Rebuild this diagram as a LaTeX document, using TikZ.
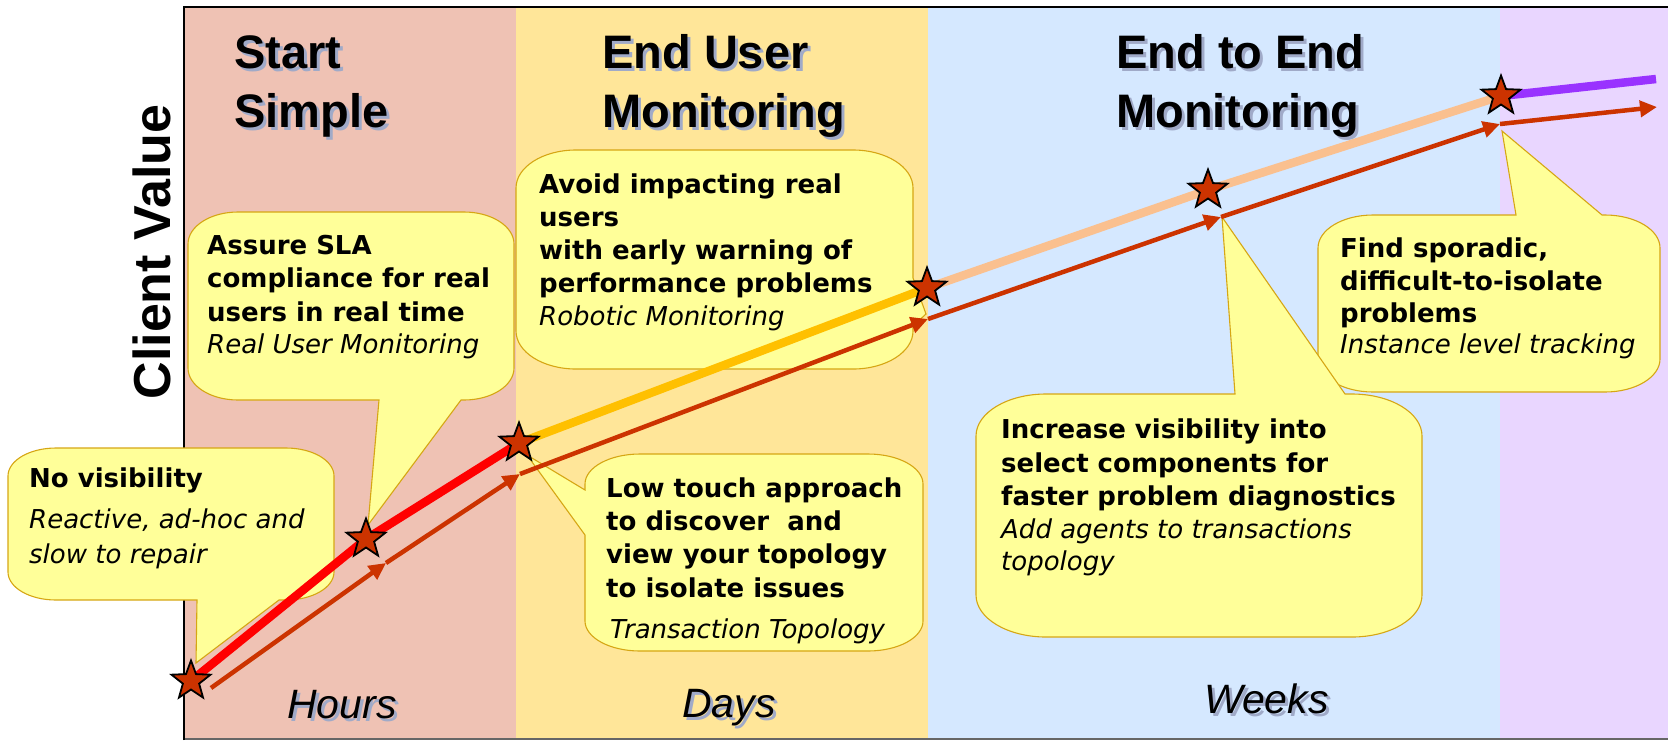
\documentclass[tikz,border=0pt]{standalone}
\usepackage{fontspec}
\setmainfont{Liberation Sans}
\newfontfamily\callfont{DejaVu Sans}
\usetikzlibrary{shapes.geometric,arrows.meta}

\definecolor{phaseA}{RGB}{239,194,180}
\definecolor{phaseB}{RGB}{255,230,153}
\definecolor{phaseC}{RGB}{213,232,255}
\definecolor{phaseD}{RGB}{233,214,255}
\definecolor{bubblefill}{RGB}{255,255,153}
\definecolor{bubbleline}{RGB}{214,166,20}
\definecolor{starfill}{RGB}{204,51,0}
\definecolor{arrowred}{RGB}{204,51,0}
\definecolor{valred}{RGB}{255,0,0}
\definecolor{valamber}{RGB}{255,192,0}
\definecolor{valpeach}{RGB}{250,192,143}
\definecolor{valpurple}{RGB}{153,51,255}
\definecolor{shade}{RGB}{160,170,200}

\begin{document}
\begin{tikzpicture}[x=1pt,y=-1pt,
  bubble/.style={fill=bubblefill,draw=bubbleline,line width=1.1pt,line join=miter},
  ttl/.style={font=\fontsize{47}{50}\selectfont\bfseries,anchor=base west,inner sep=0pt},
  ttlsh/.style={ttl,text=shade},
  tlab/.style={font=\fontsize{41}{44}\selectfont\itshape,anchor=base west,inner sep=0pt},
  tlabsh/.style={tlab,text=shade},
  cb/.style={font=\callfont\fontsize{26}{30}\selectfont\bfseries,anchor=base west,inner sep=0pt},
  ci/.style={font=\callfont\fontsize{26}{30}\selectfont\itshape,anchor=base west,inner sep=0pt},
  milestone/.style={star,star points=5,star point ratio=2.4,minimum size=41pt,inner sep=0pt,
    fill=starfill,draw=black,line width=1.8pt},
  valline/.style={line width=8.5pt,line join=round},
  stepline/.style={draw=arrowred,line width=4.5pt,-{Triangle[length=17pt,width=16pt]}}
]
\useasboundingbox (0,0) rectangle (1668,740);

% phase bands
\fill[phaseA] (184,7) rectangle (516,740);
\fill[phaseB] (516,7) rectangle (928,740);
\fill[phaseC] (928,7) rectangle (1500,740);
\fill[phaseD] (1500,7) rectangle (1668,740);

% frame
\draw[black!60,line width=1.6pt] (184,739) -- (1668,739);
\draw[black,line width=2.6pt] (184,740) -- (184,7) -- (1668,7);

% axis caption
\node[font=\fontsize{52}{54}\selectfont\bfseries,rotate=90,anchor=base,inner sep=0pt] (cv) at (170,252) {Client Value};

% phase titles
\node[ttlsh] (t1s) at (237,71) {Start};
\node[ttl] (t1) at (234,68) {Start};
\node[ttlsh] (t2s) at (237,130) {Simple};
\node[ttl] (t2) at (234,127) {Simple};
\node[ttlsh] (t3s) at (605,71) {End User};
\node[ttl] (t3) at (602,68) {End User};
\node[ttlsh] (t4s) at (605,130) {Monitoring};
\node[ttl] (t4) at (602,127) {Monitoring};
\node[ttlsh] (t5s) at (1119,71) {End to End};
\node[ttl] (t5) at (1116,68) {End to End};
\node[ttlsh] (t6s) at (1119,130) {Monitoring};
\node[ttl] (t6) at (1116,127) {Monitoring};

% time scale labels
\node[tlabsh] (h1s) at (290,721) {Hours};
\node[tlab] (h1) at (287,718) {Hours};
\node[tlabsh] (h2s) at (685,720) {Days};
\node[tlab] (h2) at (682,717) {Days};
\node[tlabsh] (h3s) at (1207,716) {Weeks};
\node[tlab] (h3) at (1204,713) {Weeks};

% callout: no visibility
\draw[bubble] (56,448) -- (286,448)
  arc[start angle=90,end angle=0,x radius=48pt,y radius=28pt] -- (334,572)
  arc[start angle=0,end angle=-90,x radius=48pt,y radius=28pt]
  -- (279,600) -- (196,663) -- (197,600) -- (56,600)
  arc[start angle=270,end angle=180,x radius=48pt,y radius=28pt] -- (8,476)
  arc[start angle=180,end angle=90,x radius=48pt,y radius=28pt] -- cycle;
\node[cb] (a1) at (29,487) {No visibility};
\node[ci] (a2) at (29,528) {Reactive, ad-hoc and};
\node[ci] (a3) at (29,563) {slow to repair};

% callout: SLA compliance
\draw[bubble] (238,212) -- (464,212)
  arc[start angle=90,end angle=0,x radius=50pt,y radius=32pt] -- (514,368)
  arc[start angle=0,end angle=-90,x radius=50pt,y radius=32pt]
  -- (461,400) -- (368,525) -- (379,400) -- (238,400)
  arc[start angle=270,end angle=180,x radius=50pt,y radius=32pt] -- (188,244)
  arc[start angle=180,end angle=90,x radius=50pt,y radius=32pt] -- cycle;
\node[cb] (b1) at (207,254) {Assure SLA};
\node[cb] (b2) at (207,287) {compliance for real};
\node[cb] (b3) at (207,321) {users in real time};
\node[ci] (b4) at (207,353) {Real User Monitoring};

% callout: robotic monitoring
\draw[bubble] (576,150) -- (853,150)
  arc[start angle=90,end angle=0,x radius=60pt,y radius=38pt]
  -- (913,278) -- (926,314) -- (913,326) -- (913,331)
  arc[start angle=0,end angle=-90,x radius=60pt,y radius=38pt] -- (576,369)
  arc[start angle=270,end angle=180,x radius=60pt,y radius=38pt] -- (516,188)
  arc[start angle=180,end angle=90,x radius=60pt,y radius=38pt] -- cycle;
\node[cb] (c1) at (539,193) {Avoid impacting real};
\node[cb] (c2) at (539,226) {users};
\node[cb] (c3) at (539,259) {with early warning of};
\node[cb] (c4) at (539,292) {performance problems};
\node[ci] (c5) at (539,325) {Robotic Monitoring};

% callout: transaction topology
\draw[bubble] (640,454) -- (868,454)
  arc[start angle=90,end angle=0,x radius=55pt,y radius=30pt] -- (923,621)
  arc[start angle=0,end angle=-90,x radius=55pt,y radius=30pt] -- (640,651)
  arc[start angle=270,end angle=180,x radius=55pt,y radius=30pt]
  -- (585,535) -- (527,455) -- (585,490) -- (585,484)
  arc[start angle=180,end angle=90,x radius=55pt,y radius=30pt] -- cycle;
\node[cb] (d1) at (606,497) {Low touch approach};
\node[cb] (d2) at (606,530) {to discover\ \ and};
\node[cb] (d3) at (606,563) {view your topology};
\node[cb] (d4) at (606,597) {to isolate issues};
\node[ci] (d5) at (610,638) {Transaction Topology};

% callout: instance level tracking
\draw[bubble] (1373,215) -- (1516,215) -- (1502,131) -- (1602,215) -- (1605,215)
  arc[start angle=90,end angle=0,x radius=55pt,y radius=33pt] -- (1660,359)
  arc[start angle=0,end angle=-90,x radius=55pt,y radius=33pt] -- (1373,392)
  arc[start angle=270,end angle=180,x radius=55pt,y radius=33pt] -- (1318,248)
  arc[start angle=180,end angle=90,x radius=55pt,y radius=33pt] -- cycle;
\node[cb] (f1) at (1340,257) {Find sporadic,};
\node[cb] (f2) at (1340,290) {difficult-to-isolate};
\node[cb] (f3) at (1340,322) {problems};
\node[ci] (f4) at (1340,353) {Instance level tracking};

% callout: agents
\draw[bubble] (1046,394) -- (1235,394) -- (1222,217) -- (1345,394) -- (1352,394)
  arc[start angle=90,end angle=0,x radius=70pt,y radius=42pt] -- (1422,595)
  arc[start angle=0,end angle=-90,x radius=70pt,y radius=42pt] -- (1046,637)
  arc[start angle=270,end angle=180,x radius=70pt,y radius=42pt] -- (976,436)
  arc[start angle=180,end angle=90,x radius=70pt,y radius=42pt] -- cycle;
\node[cb] (e1) at (1001,438) {Increase visibility into};
\node[cb] (e2) at (1001,472) {select components for};
\node[cb] (e3) at (1001,505) {faster problem diagnostics};
\node[ci] (e4) at (1001,538) {Add agents to transactions};
\node[ci] (e5) at (1001,570) {topology};

% milestone positions on the value curve
\coordinate (p1) at (191,681);
\coordinate (p2) at (366,539);
\coordinate (p3) at (519,443);
\coordinate (p4) at (927,288);
\coordinate (p5) at (1208,190);
\coordinate (p6) at (1501,96);
\coordinate (pend) at (1656,79);

% step arrows below the curve
\coordinate (q0) at (211,688);
\coordinate (q1) at (386,563);
\coordinate (q2) at (520,474);
\coordinate (q3) at (928,319);
\coordinate (q4) at (1221,217);
\coordinate (q5) at (1500,124);
\coordinate (q6) at (1657,107);

% value curve
\draw[valline,valred] (p1) -- (p2) -- (p3);
\draw[valline,valamber] (p3) -- (p4);
\draw[valline,valpeach] (p4) -- (p5) -- (p6);
\draw[valline,valpurple] (p6) -- (pend);

\draw[stepline] (q0) -- (q1);
\draw[stepline] (q1) -- (q2);
\draw[stepline] (q2) -- (q3);
\draw[stepline] (q3) -- (q4);
\draw[stepline] (q4) -- (q5);
\draw[stepline] (q5) -- (q6);

% milestones
\node[milestone] (s1) at (p1) {};
\node[milestone] (s2) at (p2) {};
\node[milestone] (s3) at (p3) {};
\node[milestone] (s4) at (p4) {};
\node[milestone] (s5) at (p5) {};
\node[milestone] (s6) at (p6) {};
\end{tikzpicture}
\end{document}
